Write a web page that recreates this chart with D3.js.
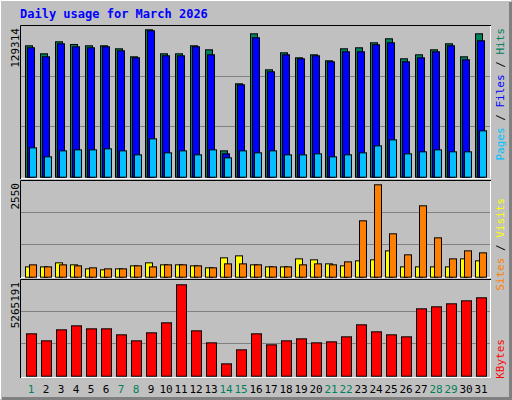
<!DOCTYPE html>
<html><head><meta charset="utf-8">
<script src="https://cdn.jsdelivr.net/npm/d3@7"></script>
<style>body{margin:0;background:#fff}</style></head>
<body><svg id="c" width="512" height="400"></svg>
<script>
const days = d3.range(1,32);
const weekendDays = [1,7,8,14,15,21,22,28,29];
const hits = [115269,108247,118779,116439,115269,115269,112636,105614,129314,108247,108247,115269,111758,23112,81917,125801,94204,109125,104736,107370,102103,112636,113513,117902,121412,103859,107370,111758,117024,105614,125801];
const files = [113513,105614,117024,114391,113513,114391,110880,104736,128434,106492,106492,114391,107370,20479,81039,122290,92449,107370,103859,106492,101226,110003,110003,116146,117902,101226,104736,110003,115269,102981,119657];
const pages = [25745,17846,23112,23990,23990,24868,23112,19602,33644,21357,23112,19602,23990,16968,23112,21357,23112,19602,19602,20479,17846,19602,21357,27501,32767,20479,22235,23990,22235,22235,40666];
const visits = [285,285,396,341,230,203,230,313,396,341,341,313,258,534,589,341,285,285,506,479,368,313,451,479,727,285,285,285,285,506,451];
const sites = [341,285,341,313,258,230,230,313,285,341,341,313,258,368,368,341,285,285,341,368,341,423,1556,2550,1197,617,1970,1086,506,727,672];
const kbytes = [2440432,2036896,2671024,2901616,2728672,2728672,2382784,2036896,2498080,3074560,5265191,2613376,1921600,710992,1518064,2440432,1806304,2036896,2152192,1921600,1979248,2267488,2959264,2555728,2382784,2267488,3881632,3996928,4169872,4342816,4515760];
const maxLabels = ["129314","2550","5265191"];

const svg = d3.select("#c");
svg.append("rect").attr("width",512).attr("height",400).attr("fill","#c0c0c0");
svg.append("path").attr("d","M0.5,399V0.5H511").attr("stroke","#fff").attr("fill","none");
svg.append("path").attr("d","M2,398.5H510.5V2").attr("stroke","#808080").attr("stroke-width",3).attr("fill","none");
svg.append("text").attr("x",20).attr("y",18).text("Daily usage for March 2026")
  .attr("font-family","DejaVu Sans Mono").attr("font-weight","bold").attr("font-size",12).attr("fill","#0000ff");

const x = d3.scaleLinear().domain([1,31]).range([26,476]);
const panels = [
  {y0:25,y1:179,base:176.7,top:29.3,max:129314,label:maxLabels[0]},
  {y0:180,y1:278,base:276.7,top:184.3,max:2550,label:maxLabels[1]},
  {y0:279,y1:378,base:375.7,top:284.3,max:5265191,label:maxLabels[2]}
];
panels.forEach(p=>{
  p.y = d3.scaleLinear().domain([0,p.max]).range([p.base,p.top]);
  svg.append("rect").attr("x",20).attr("y",p.y0).attr("width",471).attr("height",p.y1-p.y0).attr("fill","#c0c0c0");
  svg.append("path").attr("d",`M20.5,${p.y1}V${p.y0+0.5}H491`).attr("stroke","#000").attr("fill","none");
  svg.append("path").attr("d",`M21,${p.y1-0.5}H490.5V${p.y0+1}`).attr("stroke","#fff").attr("fill","none");
  const gh = (p.base - p.y0)/3;
  [1,2].forEach(k=>svg.append("line").attr("x1",21).attr("x2",490).attr("y1",Math.round(p.base-gh*k)+0.5).attr("y2",Math.round(p.base-gh*k)+0.5).attr("stroke","#808080"));
  svg.append("text").attr("transform",`translate(19,${p.y0+3}) rotate(-90)`).attr("text-anchor","end")
    .attr("font-family","DejaVu Sans Mono").attr("font-size",11).attr("fill","#000").text(p.label);
});

function bars(p,data,dx,w,color){
  svg.append("g").selectAll("rect").data(data).join("rect")
    .attr("x",(d,i)=>x(days[i])+dx+0.5).attr("width",w)
    .attr("y",d=>p.y(d)+0.5).attr("height",d=>p.base-p.y(d))
    .attr("fill",color).attr("stroke","#000").attr("stroke-width",1);
}
bars(panels[0],hits,-1,7,"#00805c");
bars(panels[0],files,1,7,"#0000ff");
bars(panels[0],pages,3,7,"#00c0ff");
bars(panels[1],visits,-1,7,"#ffff00");
bars(panels[1],sites,3,7,"#ff8000");
bars(panels[2],kbytes,0,10,"#ff0000");

svg.append("g").selectAll("text").data(days).join("text")
  .attr("x",d=>x(d)+5).attr("y",393).attr("text-anchor","middle")
  .attr("font-family","DejaVu Sans Mono").attr("font-size",11)
  .attr("fill",d=>weekendDays.includes(d)?"#00805c":"#000").text(d=>d);

function rlabel(yTop,parts){
  const t = svg.append("text").attr("transform",`translate(504,${yTop}) rotate(-90)`).attr("text-anchor","end")
    .attr("font-family","DejaVu Sans Mono").attr("font-size",11);
  parts.forEach(([s,c])=>t.append("tspan").attr("fill",c).text(s));
}
rlabel(28,[["Pages","#00c0ff"],[" / ","#000"],["Files","#0000ff"],[" / ","#000"],["Hits","#00805c"]]);
rlabel(198,[["Sites","#ff8000"],[" / ","#000"],["Visits","#ffff00"]]);
rlabel(339,[["KBytes","#ff0000"]]);
</script></body></html>
